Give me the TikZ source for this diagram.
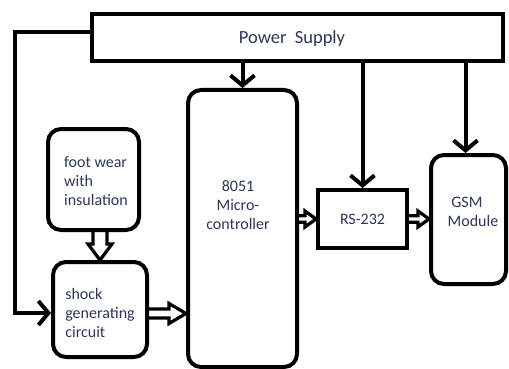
\documentclass[tikz,border=0pt]{standalone}
\usepackage{fontspec}
\setmainfont{Carlito}
\usetikzlibrary{arrows.meta,calc}
\definecolor{txt}{RGB}{45,55,85}
\newcommand{\hfat}[5]{% start, end, h, H, L (horizontal, pointing right)
  \draw[fat] let \p1=(#1), \p2=(#2) in
    (\x1,{\y1+#3}) -- ({\x2-#5},{\y1+#3}) -- ({\x2-#5},{\y1+#4}) -- (\x2,\y1)
    -- ({\x2-#5},{\y1-#4}) -- ({\x2-#5},{\y1-#3}) -- (\x1,{\y1-#3});}
\newcommand{\vfat}[5]{% start, end, h, H, L (vertical, pointing down)
  \draw[fat] let \p1=(#1), \p2=(#2) in
    ({\x1-#3},\y1) -- ({\x1-#3},{\y2+#5}) -- ({\x1-#4},{\y2+#5}) -- (\x1,\y2)
    -- ({\x1+#4},{\y2+#5}) -- ({\x1+#3},{\y2+#5}) -- ({\x1+#3},\y1);}
\begin{document}
\begin{tikzpicture}[x=1pt,y=-1pt,
  box/.style={draw, line width=4pt, inner sep=0pt},
  rbox/.style={box, rounded corners=13pt},
  lbl/.style={text=txt, font=\fontsize{16}{19}\selectfont, align=left, inner sep=0pt},
  feed/.style={draw, line width=4pt, -{Straight Barb[length=10pt,width=24pt]}},
  fat/.style={draw, line width=3.2pt, line join=miter}]
\useasboundingbox (0,0) rectangle (509,369);
% boxes
\node[box, minimum width=411pt, minimum height=47pt] (ps) at (297.5,37.5) {};
\node[text=txt, font=\fontsize{18.5}{22}\selectfont, inner sep=0pt] (pstext) at (292,39) {Power\ \ Supply};
\node[rbox, minimum width=109pt, minimum height=277pt] (mc) at (242.5,228.5) {};
\node[lbl, align=center] (mctext) at (238,205) {8051\\Micro-\\controller};
\node[rbox, minimum width=91pt, minimum height=101pt] (fw) at (93.5,179.5) {};
\node[lbl] (fwtext) at (96,181) {foot wear\\with\\insulation};
\node[rbox, minimum width=94pt, minimum height=95pt] (sh) at (100,309.5) {};
\node[lbl] (shtext) at (100,313) {shock\\generating\\circuit};
\node[box, minimum width=89pt, minimum height=58pt, lbl] (rs) at (362.5,219) {RS-232};
\node[rbox, minimum width=75pt, minimum height=129pt] (gsm) at (468.5,219.5) {};
\node[lbl] (gsmtext) at (473,212) {\ GSM\\Module};
% power feeds
\draw[feed] (ps.south -| mc.north) -- (mc.north);
\draw[feed] (ps.south -| rs.north) -- (rs.north);
\draw[feed] ([xshift=-3pt]ps.south -| gsm.north) -- ([xshift=-3pt]gsm.north);
\coordinate (lc) at (15,313);
\draw[feed] ($(ps.north west)!0.4!(ps.south west)$) -| (lc) -- (lc -| sh.west);
% fat arrows
\vfat{sh.north |- fw.south}{sh.north}{7pt}{12pt}{16pt}
\hfat{$(sh.east)+(0,4)$}{$(sh.east -| mc.west)+(0,4)$}{4.5pt}{10pt}{17pt}
\hfat{rs.west -| mc.east}{rs.west}{3.3pt}{8pt}{11pt}
\hfat{rs.east}{rs.east -| gsm.west}{3.3pt}{8pt}{11pt}
\end{tikzpicture}
\end{document}
